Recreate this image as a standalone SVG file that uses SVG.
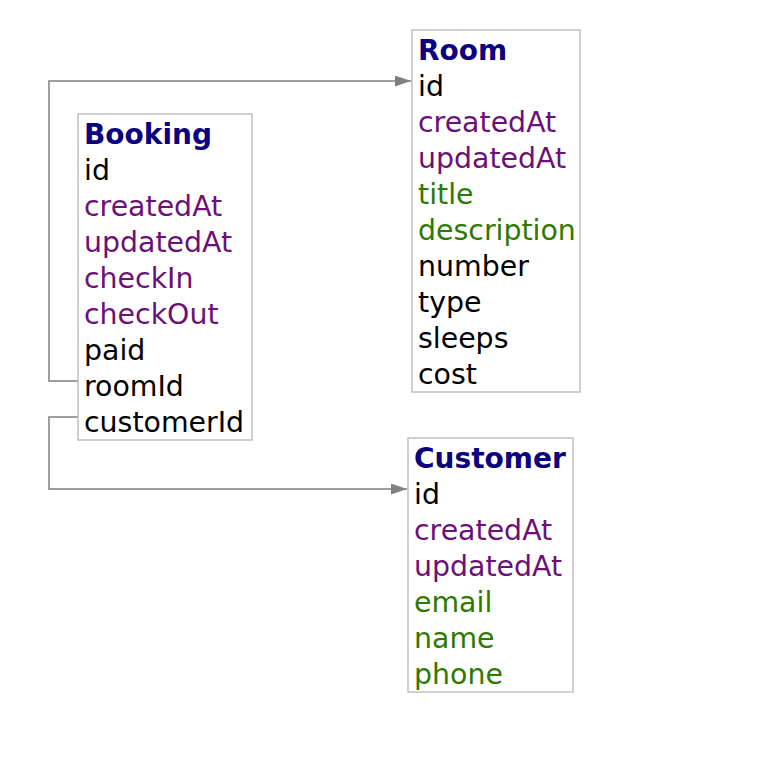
<svg xmlns="http://www.w3.org/2000/svg" width="772" height="776" viewBox="0 0 772 776">
<defs>
<style>
text{font-family:"DejaVu Sans","Verdana",sans-serif;font-size:28.4px;fill:#000}
.t{font-weight:bold;font-size:28px;fill:#0b0080}
.p{fill:#6b1079}
.g{fill:#2e7a00}
.box{fill:#fff;stroke:#c0c0c0;stroke-width:1.5}
.edge{fill:none;stroke:#808080;stroke-width:1.5}
</style>
<marker id="arr" markerWidth="16" markerHeight="11" refX="16" refY="5.5" orient="auto" markerUnits="userSpaceOnUse">
<path d="M0,0 L16,5.5 L0,11 Z" fill="#808080"/>
</marker>
</defs>
<rect width="772" height="776" fill="#fff"/>
<g id="connectors">
<path class="edge" d="M78,381 H49 V81 H411" marker-end="url(#arr)"/>
<path class="edge" d="M78,417 H49 V489 H407" marker-end="url(#arr)"/>
</g>
<g id="Booking">
<rect class="box" x="78" y="114" width="174" height="326"/>
<text class="t" x="84" y="144">Booking</text>
<text x="84" y="180">id</text>
<text class="p" x="84" y="216">createdAt</text>
<text class="p" x="84" y="252">updatedAt</text>
<text class="p" x="84" y="288">checkIn</text>
<text class="p" x="84" y="324">checkOut</text>
<text x="84" y="360">paid</text>
<text x="84" y="396">roomId</text>
<text x="84" y="432">customerId</text>
</g>
<g id="Room">
<rect class="box" x="412" y="30" width="168" height="362"/>
<text class="t" x="418" y="60">Room</text>
<text x="418" y="96">id</text>
<text class="p" x="418" y="132">createdAt</text>
<text class="p" x="418" y="168">updatedAt</text>
<text class="g" x="418" y="204">title</text>
<text class="g" x="418" y="240">description</text>
<text x="418" y="276">number</text>
<text x="418" y="312">type</text>
<text x="418" y="348">sleeps</text>
<text x="418" y="384">cost</text>
</g>
<g id="Customer">
<rect class="box" x="408" y="438" width="165" height="254"/>
<text class="t" x="414" y="468">Customer</text>
<text x="414" y="504">id</text>
<text class="p" x="414" y="540">createdAt</text>
<text class="p" x="414" y="576">updatedAt</text>
<text class="g" x="414" y="612">email</text>
<text class="g" x="414" y="648">name</text>
<text class="g" x="414" y="684">phone</text>
</g>
</svg>
